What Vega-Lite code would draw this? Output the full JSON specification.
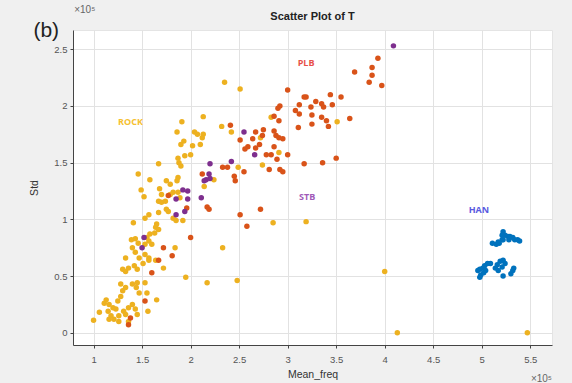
{
  "$schema": "https://vega.github.io/schema/vega-lite/v6.json",
  "width": 479,
  "height": 315,
  "autosize": {"type": "none"},
  "padding": {"left": 73, "top": 30, "right": 20, "bottom": 38},
  "background": "#f0f0f0",
  "title": {"text": "Scatter Plot of T", "fontSize": 11, "fontWeight": "bold", "color": "#222222", "font": "Liberation Sans", "anchor": "middle", "offset": 7, "dy": 24},
  "config": {
    "view": {"fill": "white", "stroke": "#e4e4e4"},
    "axis": {"font": "Liberation Sans", "labelFont": "Liberation Sans", "titleFont": "Liberation Sans", "labelColor": "#555555", "titleColor": "#333333", "labelFontSize": 9.5, "titleFontSize": 10.5, "titleFontWeight": "normal", "gridColor": "#e2e2e2", "domainColor": "#444444", "tickColor": "#444444", "tickSize": 3, "format": "~g"}
  },
  "datasets": {
    "pts": [
      {"group": "ROCK", "Mean_freq": 2.13, "Std": 1.906},
      {"group": "ROCK", "Mean_freq": 1.91, "Std": 1.86},
      {"group": "ROCK", "Mean_freq": 2.32, "Std": 1.82},
      {"group": "ROCK", "Mean_freq": 1.86, "Std": 1.77},
      {"group": "ROCK", "Mean_freq": 2.04, "Std": 1.77},
      {"group": "ROCK", "Mean_freq": 2.07, "Std": 1.75},
      {"group": "ROCK", "Mean_freq": 2.13, "Std": 1.75},
      {"group": "ROCK", "Mean_freq": 2.42, "Std": 1.77},
      {"group": "ROCK", "Mean_freq": 1.93, "Std": 1.69},
      {"group": "ROCK", "Mean_freq": 1.9, "Std": 1.66},
      {"group": "ROCK", "Mean_freq": 2.02, "Std": 1.65},
      {"group": "ROCK", "Mean_freq": 2.1, "Std": 1.66},
      {"group": "ROCK", "Mean_freq": 2.12, "Std": 1.72},
      {"group": "ROCK", "Mean_freq": 2.0, "Std": 1.57},
      {"group": "ROCK", "Mean_freq": 1.94, "Std": 1.56},
      {"group": "ROCK", "Mean_freq": 1.87, "Std": 1.54},
      {"group": "ROCK", "Mean_freq": 1.88, "Std": 1.5},
      {"group": "ROCK", "Mean_freq": 1.9, "Std": 1.47},
      {"group": "ROCK", "Mean_freq": 1.67, "Std": 1.49},
      {"group": "ROCK", "Mean_freq": 1.46, "Std": 1.4},
      {"group": "ROCK", "Mean_freq": 1.58, "Std": 1.35},
      {"group": "ROCK", "Mean_freq": 1.75, "Std": 1.34},
      {"group": "ROCK", "Mean_freq": 1.79, "Std": 1.31},
      {"group": "ROCK", "Mean_freq": 1.87, "Std": 1.37},
      {"group": "ROCK", "Mean_freq": 1.86, "Std": 1.34},
      {"group": "ROCK", "Mean_freq": 2.24, "Std": 1.35},
      {"group": "ROCK", "Mean_freq": 2.14, "Std": 1.29},
      {"group": "ROCK", "Mean_freq": 1.49, "Std": 1.26},
      {"group": "ROCK", "Mean_freq": 1.52, "Std": 1.2},
      {"group": "ROCK", "Mean_freq": 1.68, "Std": 1.27},
      {"group": "ROCK", "Mean_freq": 1.7, "Std": 1.22},
      {"group": "ROCK", "Mean_freq": 1.79, "Std": 1.22},
      {"group": "ROCK", "Mean_freq": 1.82, "Std": 1.24},
      {"group": "ROCK", "Mean_freq": 1.87, "Std": 1.24},
      {"group": "ROCK", "Mean_freq": 1.89, "Std": 1.19},
      {"group": "ROCK", "Mean_freq": 1.67, "Std": 1.16},
      {"group": "ROCK", "Mean_freq": 1.7, "Std": 1.15},
      {"group": "ROCK", "Mean_freq": 1.74, "Std": 1.16},
      {"group": "ROCK", "Mean_freq": 1.75, "Std": 1.09},
      {"group": "ROCK", "Mean_freq": 1.67, "Std": 1.06},
      {"group": "ROCK", "Mean_freq": 1.77, "Std": 1.07},
      {"group": "ROCK", "Mean_freq": 1.82, "Std": 1.01},
      {"group": "ROCK", "Mean_freq": 1.85, "Std": 0.99},
      {"group": "ROCK", "Mean_freq": 1.92, "Std": 0.99},
      {"group": "ROCK", "Mean_freq": 1.57, "Std": 1.04},
      {"group": "ROCK", "Mean_freq": 1.53, "Std": 1.01},
      {"group": "ROCK", "Mean_freq": 1.41, "Std": 0.97},
      {"group": "ROCK", "Mean_freq": 1.65, "Std": 0.96},
      {"group": "ROCK", "Mean_freq": 1.64, "Std": 0.93},
      {"group": "ROCK", "Mean_freq": 1.67, "Std": 0.91},
      {"group": "ROCK", "Mean_freq": 1.63, "Std": 0.88},
      {"group": "ROCK", "Mean_freq": 2.85, "Std": 0.97},
      {"group": "ROCK", "Mean_freq": 1.58, "Std": 0.87},
      {"group": "ROCK", "Mean_freq": 1.55, "Std": 0.84},
      {"group": "ROCK", "Mean_freq": 1.57, "Std": 0.81},
      {"group": "ROCK", "Mean_freq": 1.6, "Std": 0.78},
      {"group": "ROCK", "Mean_freq": 1.53, "Std": 0.78},
      {"group": "ROCK", "Mean_freq": 1.39, "Std": 0.82},
      {"group": "ROCK", "Mean_freq": 1.43, "Std": 0.83},
      {"group": "ROCK", "Mean_freq": 1.46, "Std": 0.79},
      {"group": "ROCK", "Mean_freq": 1.4, "Std": 0.75},
      {"group": "ROCK", "Mean_freq": 1.84, "Std": 0.75},
      {"group": "ROCK", "Mean_freq": 2.33, "Std": 0.75},
      {"group": "ROCK", "Mean_freq": 1.53, "Std": 0.69},
      {"group": "ROCK", "Mean_freq": 1.57, "Std": 0.66},
      {"group": "ROCK", "Mean_freq": 1.64, "Std": 0.64},
      {"group": "ROCK", "Mean_freq": 1.72, "Std": 0.57},
      {"group": "ROCK", "Mean_freq": 1.47, "Std": 0.66},
      {"group": "ROCK", "Mean_freq": 1.33, "Std": 0.66},
      {"group": "ROCK", "Mean_freq": 1.36, "Std": 0.57},
      {"group": "ROCK", "Mean_freq": 1.3, "Std": 0.56},
      {"group": "ROCK", "Mean_freq": 1.33, "Std": 0.54},
      {"group": "ROCK", "Mean_freq": 1.42, "Std": 0.59},
      {"group": "ROCK", "Mean_freq": 1.45, "Std": 0.56},
      {"group": "ROCK", "Mean_freq": 1.43, "Std": 0.71},
      {"group": "ROCK", "Mean_freq": 1.51, "Std": 0.61},
      {"group": "ROCK", "Mean_freq": 1.57, "Std": 0.64},
      {"group": "ROCK", "Mean_freq": 1.95, "Std": 0.49},
      {"group": "ROCK", "Mean_freq": 2.17, "Std": 0.44},
      {"group": "ROCK", "Mean_freq": 2.48, "Std": 0.46},
      {"group": "ROCK", "Mean_freq": 1.28, "Std": 0.43},
      {"group": "ROCK", "Mean_freq": 1.3, "Std": 0.37},
      {"group": "ROCK", "Mean_freq": 1.33, "Std": 0.4},
      {"group": "ROCK", "Mean_freq": 1.4, "Std": 0.43},
      {"group": "ROCK", "Mean_freq": 1.45, "Std": 0.44},
      {"group": "ROCK", "Mean_freq": 1.44, "Std": 0.4},
      {"group": "ROCK", "Mean_freq": 1.47, "Std": 0.35},
      {"group": "ROCK", "Mean_freq": 1.53, "Std": 0.44},
      {"group": "ROCK", "Mean_freq": 1.55, "Std": 0.35},
      {"group": "ROCK", "Mean_freq": 1.28, "Std": 0.32},
      {"group": "ROCK", "Mean_freq": 1.25, "Std": 0.28},
      {"group": "ROCK", "Mean_freq": 1.13, "Std": 0.29},
      {"group": "ROCK", "Mean_freq": 1.11, "Std": 0.26},
      {"group": "ROCK", "Mean_freq": 1.16, "Std": 0.25},
      {"group": "ROCK", "Mean_freq": 1.2, "Std": 0.22},
      {"group": "ROCK", "Mean_freq": 1.23, "Std": 0.21},
      {"group": "ROCK", "Mean_freq": 1.15, "Std": 0.19},
      {"group": "ROCK", "Mean_freq": 1.18, "Std": 0.15},
      {"group": "ROCK", "Mean_freq": 1.21, "Std": 0.12},
      {"group": "ROCK", "Mean_freq": 1.26, "Std": 0.15},
      {"group": "ROCK", "Mean_freq": 1.31, "Std": 0.19},
      {"group": "ROCK", "Mean_freq": 1.33, "Std": 0.16},
      {"group": "ROCK", "Mean_freq": 1.36, "Std": 0.22},
      {"group": "ROCK", "Mean_freq": 1.4, "Std": 0.25},
      {"group": "ROCK", "Mean_freq": 1.43, "Std": 0.21},
      {"group": "ROCK", "Mean_freq": 1.45, "Std": 0.16},
      {"group": "ROCK", "Mean_freq": 1.06, "Std": 0.18},
      {"group": "ROCK", "Mean_freq": 1.0, "Std": 0.11},
      {"group": "ROCK", "Mean_freq": 1.16, "Std": 0.12},
      {"group": "ROCK", "Mean_freq": 1.26, "Std": 0.1},
      {"group": "ROCK", "Mean_freq": 1.36, "Std": 0.1},
      {"group": "ROCK", "Mean_freq": 1.56, "Std": 0.19},
      {"group": "ROCK", "Mean_freq": 1.65, "Std": 0.29},
      {"group": "ROCK", "Mean_freq": 2.35, "Std": 2.21},
      {"group": "ROCK", "Mean_freq": 2.51, "Std": 2.15},
      {"group": "ROCK", "Mean_freq": 2.83, "Std": 1.9},
      {"group": "ROCK", "Mean_freq": 3.51, "Std": 1.86},
      {"group": "ROCK", "Mean_freq": 2.72, "Std": 1.72},
      {"group": "ROCK", "Mean_freq": 2.91, "Std": 1.59},
      {"group": "ROCK", "Mean_freq": 2.74, "Std": 1.48},
      {"group": "ROCK", "Mean_freq": 2.49, "Std": 1.46},
      {"group": "ROCK", "Mean_freq": 3.19, "Std": 0.98},
      {"group": "ROCK", "Mean_freq": 4.0, "Std": 0.54},
      {"group": "ROCK", "Mean_freq": 4.13, "Std": 0.0},
      {"group": "ROCK", "Mean_freq": 5.47, "Std": 0.0},
      {"group": "PLB", "Mean_freq": 2.41, "Std": 1.83},
      {"group": "PLB", "Mean_freq": 2.12, "Std": 1.4},
      {"group": "PLB", "Mean_freq": 2.33, "Std": 1.46},
      {"group": "PLB", "Mean_freq": 2.38, "Std": 1.46},
      {"group": "PLB", "Mean_freq": 2.45, "Std": 1.38},
      {"group": "PLB", "Mean_freq": 2.46, "Std": 1.34},
      {"group": "PLB", "Mean_freq": 1.77, "Std": 1.21},
      {"group": "PLB", "Mean_freq": 1.96, "Std": 1.1},
      {"group": "PLB", "Mean_freq": 2.17, "Std": 1.11},
      {"group": "PLB", "Mean_freq": 2.19, "Std": 1.09},
      {"group": "PLB", "Mean_freq": 2.72, "Std": 1.09},
      {"group": "PLB", "Mean_freq": 2.51, "Std": 1.04},
      {"group": "PLB", "Mean_freq": 2.58, "Std": 0.94},
      {"group": "PLB", "Mean_freq": 2.0, "Std": 0.84},
      {"group": "PLB", "Mean_freq": 1.72, "Std": 0.75},
      {"group": "PLB", "Mean_freq": 1.81, "Std": 0.68},
      {"group": "PLB", "Mean_freq": 1.67, "Std": 0.64},
      {"group": "PLB", "Mean_freq": 1.6, "Std": 0.53},
      {"group": "PLB", "Mean_freq": 1.38, "Std": 0.13},
      {"group": "PLB", "Mean_freq": 1.36, "Std": 0.07},
      {"group": "PLB", "Mean_freq": 1.53, "Std": 0.28},
      {"group": "PLB", "Mean_freq": 3.93, "Std": 2.42},
      {"group": "PLB", "Mean_freq": 3.87, "Std": 2.34},
      {"group": "PLB", "Mean_freq": 3.87, "Std": 2.27},
      {"group": "PLB", "Mean_freq": 3.84, "Std": 2.21},
      {"group": "PLB", "Mean_freq": 3.97, "Std": 2.18},
      {"group": "PLB", "Mean_freq": 3.69, "Std": 2.3},
      {"group": "PLB", "Mean_freq": 3.0, "Std": 2.14},
      {"group": "PLB", "Mean_freq": 3.17, "Std": 2.08},
      {"group": "PLB", "Mean_freq": 3.19, "Std": 2.08},
      {"group": "PLB", "Mean_freq": 3.12, "Std": 2.01},
      {"group": "PLB", "Mean_freq": 3.08, "Std": 1.96},
      {"group": "PLB", "Mean_freq": 3.12, "Std": 1.93},
      {"group": "PLB", "Mean_freq": 3.29, "Std": 2.04},
      {"group": "PLB", "Mean_freq": 3.24, "Std": 1.99},
      {"group": "PLB", "Mean_freq": 3.35, "Std": 2.02},
      {"group": "PLB", "Mean_freq": 3.37, "Std": 1.99},
      {"group": "PLB", "Mean_freq": 3.44, "Std": 2.1},
      {"group": "PLB", "Mean_freq": 3.55, "Std": 2.08},
      {"group": "PLB", "Mean_freq": 3.46, "Std": 2.01},
      {"group": "PLB", "Mean_freq": 2.92, "Std": 2.0},
      {"group": "PLB", "Mean_freq": 2.9, "Std": 1.98},
      {"group": "PLB", "Mean_freq": 2.86, "Std": 1.91},
      {"group": "PLB", "Mean_freq": 2.91, "Std": 1.87},
      {"group": "PLB", "Mean_freq": 3.11, "Std": 1.81},
      {"group": "PLB", "Mean_freq": 3.25, "Std": 1.92},
      {"group": "PLB", "Mean_freq": 3.25, "Std": 1.84},
      {"group": "PLB", "Mean_freq": 3.35, "Std": 1.9},
      {"group": "PLB", "Mean_freq": 3.4, "Std": 1.87},
      {"group": "PLB", "Mean_freq": 3.42, "Std": 1.82},
      {"group": "PLB", "Mean_freq": 3.64, "Std": 1.89},
      {"group": "PLB", "Mean_freq": 2.67, "Std": 1.77},
      {"group": "PLB", "Mean_freq": 2.75, "Std": 1.79},
      {"group": "PLB", "Mean_freq": 2.74, "Std": 1.74},
      {"group": "PLB", "Mean_freq": 2.64, "Std": 1.71},
      {"group": "PLB", "Mean_freq": 2.51, "Std": 1.7},
      {"group": "PLB", "Mean_freq": 2.59, "Std": 1.64},
      {"group": "PLB", "Mean_freq": 2.56, "Std": 1.62},
      {"group": "PLB", "Mean_freq": 2.67, "Std": 1.63},
      {"group": "PLB", "Mean_freq": 2.71, "Std": 1.66},
      {"group": "PLB", "Mean_freq": 2.86, "Std": 1.78},
      {"group": "PLB", "Mean_freq": 2.88, "Std": 1.74},
      {"group": "PLB", "Mean_freq": 2.91, "Std": 1.72},
      {"group": "PLB", "Mean_freq": 2.95, "Std": 1.71},
      {"group": "PLB", "Mean_freq": 2.86, "Std": 1.64},
      {"group": "PLB", "Mean_freq": 2.83, "Std": 1.57},
      {"group": "PLB", "Mean_freq": 2.89, "Std": 1.53},
      {"group": "PLB", "Mean_freq": 3.0, "Std": 1.57},
      {"group": "PLB", "Mean_freq": 2.78, "Std": 1.57},
      {"group": "PLB", "Mean_freq": 2.92, "Std": 1.44},
      {"group": "PLB", "Mean_freq": 2.95, "Std": 1.42},
      {"group": "PLB", "Mean_freq": 2.81, "Std": 1.44},
      {"group": "PLB", "Mean_freq": 3.17, "Std": 1.49},
      {"group": "PLB", "Mean_freq": 3.36, "Std": 1.5},
      {"group": "PLB", "Mean_freq": 3.5, "Std": 1.54},
      {"group": "PLB", "Mean_freq": 2.55, "Std": 1.42},
      {"group": "STB", "Mean_freq": 4.09, "Std": 2.53},
      {"group": "STB", "Mean_freq": 2.55, "Std": 1.77},
      {"group": "STB", "Mean_freq": 2.2, "Std": 1.49},
      {"group": "STB", "Mean_freq": 2.19, "Std": 1.4},
      {"group": "STB", "Mean_freq": 2.16, "Std": 1.35},
      {"group": "STB", "Mean_freq": 2.14, "Std": 1.34},
      {"group": "STB", "Mean_freq": 2.2, "Std": 1.36},
      {"group": "STB", "Mean_freq": 1.92, "Std": 1.26},
      {"group": "STB", "Mean_freq": 1.97, "Std": 1.25},
      {"group": "STB", "Mean_freq": 1.85, "Std": 1.18},
      {"group": "STB", "Mean_freq": 1.97, "Std": 1.18},
      {"group": "STB", "Mean_freq": 1.94, "Std": 1.07},
      {"group": "STB", "Mean_freq": 1.85, "Std": 1.04},
      {"group": "STB", "Mean_freq": 2.11, "Std": 1.19},
      {"group": "STB", "Mean_freq": 1.52, "Std": 0.84},
      {"group": "STB", "Mean_freq": 1.5, "Std": 0.75},
      {"group": "STB", "Mean_freq": 2.66, "Std": 1.57},
      {"group": "STB", "Mean_freq": 2.42, "Std": 1.51},
      {"group": "HAN", "Mean_freq": 5.11, "Std": 0.79},
      {"group": "HAN", "Mean_freq": 5.15, "Std": 0.78},
      {"group": "HAN", "Mean_freq": 5.18, "Std": 0.79},
      {"group": "HAN", "Mean_freq": 5.21, "Std": 0.82},
      {"group": "HAN", "Mean_freq": 5.22, "Std": 0.89},
      {"group": "HAN", "Mean_freq": 5.24, "Std": 0.86},
      {"group": "HAN", "Mean_freq": 5.27, "Std": 0.85},
      {"group": "HAN", "Mean_freq": 5.29, "Std": 0.85},
      {"group": "HAN", "Mean_freq": 5.32, "Std": 0.84},
      {"group": "HAN", "Mean_freq": 5.34, "Std": 0.82},
      {"group": "HAN", "Mean_freq": 5.37, "Std": 0.82},
      {"group": "HAN", "Mean_freq": 5.39, "Std": 0.81},
      {"group": "HAN", "Mean_freq": 5.28, "Std": 0.82},
      {"group": "HAN", "Mean_freq": 5.22, "Std": 0.82},
      {"group": "HAN", "Mean_freq": 5.17, "Std": 0.8},
      {"group": "HAN", "Mean_freq": 5.21, "Std": 0.86},
      {"group": "HAN", "Mean_freq": 4.96, "Std": 0.55},
      {"group": "HAN", "Mean_freq": 4.98, "Std": 0.56},
      {"group": "HAN", "Mean_freq": 5.01, "Std": 0.57},
      {"group": "HAN", "Mean_freq": 5.03, "Std": 0.59},
      {"group": "HAN", "Mean_freq": 5.06, "Std": 0.61},
      {"group": "HAN", "Mean_freq": 5.09, "Std": 0.61},
      {"group": "HAN", "Mean_freq": 4.99, "Std": 0.51},
      {"group": "HAN", "Mean_freq": 4.98, "Std": 0.49},
      {"group": "HAN", "Mean_freq": 5.02, "Std": 0.53},
      {"group": "HAN", "Mean_freq": 5.04, "Std": 0.55},
      {"group": "HAN", "Mean_freq": 5.14, "Std": 0.57},
      {"group": "HAN", "Mean_freq": 5.16, "Std": 0.6},
      {"group": "HAN", "Mean_freq": 5.19, "Std": 0.63},
      {"group": "HAN", "Mean_freq": 5.22, "Std": 0.64},
      {"group": "HAN", "Mean_freq": 5.24, "Std": 0.61},
      {"group": "HAN", "Mean_freq": 5.21, "Std": 0.58},
      {"group": "HAN", "Mean_freq": 5.17, "Std": 0.55},
      {"group": "HAN", "Mean_freq": 5.22, "Std": 0.5},
      {"group": "HAN", "Mean_freq": 5.3, "Std": 0.52},
      {"group": "HAN", "Mean_freq": 5.32, "Std": 0.55},
      {"group": "HAN", "Mean_freq": 5.33, "Std": 0.57}
    ],
    "labels": [
      {"group": "ROCK", "Mean_freq": 1.38, "Std": 1.86},
      {"group": "PLB", "Mean_freq": 3.19, "Std": 2.38},
      {"group": "STB", "Mean_freq": 3.2, "Std": 1.2},
      {"group": "HAN", "Mean_freq": 4.97, "Std": 1.08}
    ],
    "notes": [
      {"text": "(b)", "Mean_freq": 0.38, "Std": 2.61},
      {"text": "×10⁵", "Mean_freq": 0.8, "Std": 2.82}
    ],
    "notes2": [
      {"text": "×10⁵", "Mean_freq": 5.724, "Std": -0.43}
    ]
  },
  "layer": [
    {
      "data": {"name": "pts"},
      "mark": {"type": "circle", "size": 30, "opacity": 1},
      "encoding": {
        "x": {"field": "Mean_freq", "type": "quantitative", "title": "Mean_freq",
              "scale": {"domain": [0.788, 5.724], "nice": false, "zero": false},
              "axis": {"values": [1, 1.5, 2, 2.5, 3, 3.5, 4, 4.5, 5, 5.5], "labelPadding": 6, "titlePadding": 6}},
        "y": {"field": "Std", "type": "quantitative", "title": "Std",
              "scale": {"domain": [-0.108, 2.67], "nice": false, "zero": false},
              "axis": {"values": [0, 0.5, 1, 1.5, 2, 2.5], "labelPadding": 3, "titlePadding": 14}},
        "color": {"field": "group", "type": "nominal", "legend": null,
                  "scale": {"domain": ["ROCK", "PLB", "STB", "HAN"], "range": ["#EDB120", "#D95319", "#7E2F8E", "#0072BD"]}}
      }
    },
    {
      "data": {"name": "labels"},
      "mark": {"type": "text", "fontSize": 9, "fontWeight": "bold", "font": "Open Sans", "align": "center", "baseline": "middle"},
      "encoding": {
        "x": {"field": "Mean_freq", "type": "quantitative"},
        "y": {"field": "Std", "type": "quantitative"},
        "text": {"field": "group"},
        "color": {"field": "group", "type": "nominal", "legend": null,
                  "scale": {"domain": ["ROCK", "PLB", "STB", "HAN"], "range": ["#F5C030", "#E8504A", "#A05AB8", "#5A5AE0"]}}
      }
    },
    {
      "data": {"name": "notes"},
      "mark": {"type": "text", "align": "left", "baseline": "alphabetic", "font": "Liberation Sans", "clip": false},
      "encoding": {
        "x": {"field": "Mean_freq", "type": "quantitative"},
        "y": {"field": "Std", "type": "quantitative"},
        "text": {"field": "text"},
        "size": {"condition": {"test": "datum.text === '(b)'", "value": 21}, "value": 10},
        "color": {"condition": {"test": "datum.text === '(b)'", "value": "#222222"}, "value": "#666666"}
      }
    },
    {
      "data": {"name": "notes2"},
      "mark": {"type": "text", "align": "right", "baseline": "alphabetic", "font": "Liberation Sans", "fontSize": 10, "color": "#666666", "clip": false},
      "encoding": {
        "x": {"field": "Mean_freq", "type": "quantitative"},
        "y": {"field": "Std", "type": "quantitative"},
        "text": {"field": "text"}
      }
    }
  ],
  "resolve": {"scale": {"color": "independent"}}
}
